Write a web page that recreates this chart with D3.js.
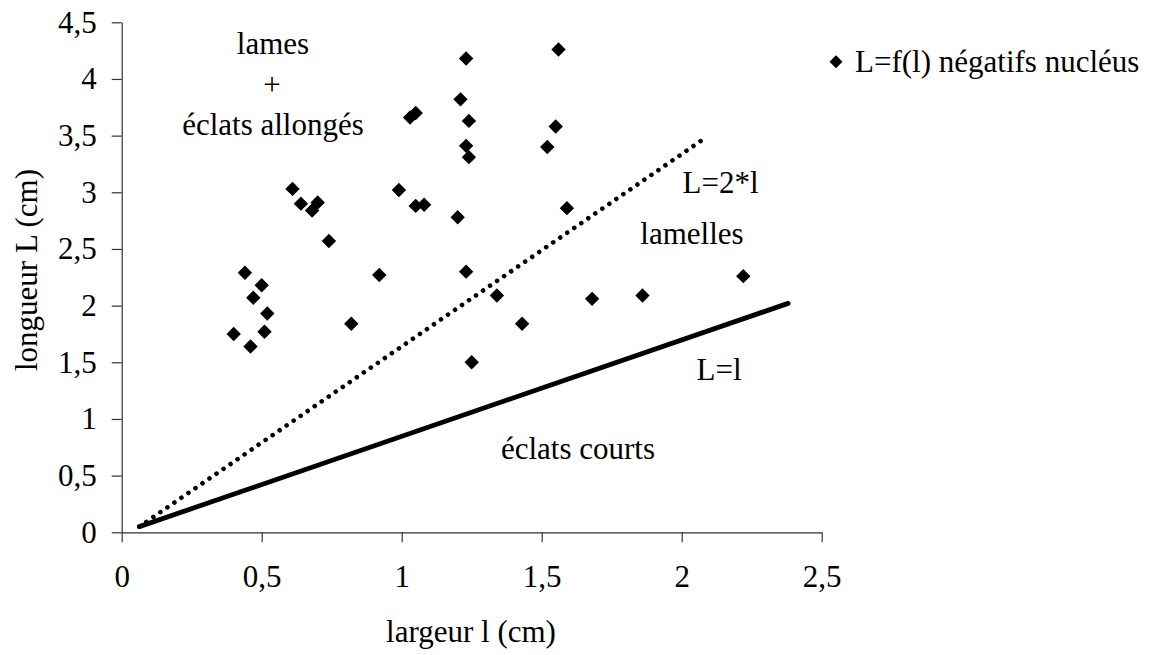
<!DOCTYPE html>
<html>
<head>
<meta charset="utf-8">
<script src="https://cdn.jsdelivr.net/npm/d3@7"></script>
<style>
  html, body { margin: 0; padding: 0; background: #fff; }
</style>
</head>
<body>
<svg id="chart" width="1149" height="655"></svg>
<script>
// ---- data ----
const largeur = [1.23, 1.21, 1.03, 1.05, 1.24, 1.23, 1.24, 0.61, 0.64, 0.68, 0.70, 0.99,
                 1.05, 1.08, 1.20, 0.74, 1.56, 1.55, 1.52, 1.59, 0.44, 0.50, 0.47, 0.52,
                 0.40, 0.51, 0.46, 0.92, 0.82, 1.23, 1.25, 1.34, 1.43, 1.68, 1.86, 2.22];
const longueur = [4.18, 3.82, 3.66, 3.70, 3.63, 3.41, 3.31, 3.03, 2.90, 2.84, 2.91, 3.02,
                  2.88, 2.89, 2.78, 2.57, 4.26, 3.58, 3.40, 2.86, 2.29, 2.18, 2.07, 1.93,
                  1.75, 1.77, 1.64, 2.27, 1.84, 2.30, 1.50, 2.09, 1.84, 2.06, 2.09, 2.26];
const lineLeqL_x = [0.063, 2.38];
const lineLeqL_y = [0.05, 2.02];
const lineL2l_x = [0.063, 2.09];
const lineL2l_y = [0.05, 3.49];
const xTicks = [0, 0.5, 1, 1.5, 2, 2.5];
const yTicks = [0, 0.5, 1, 1.5, 2, 2.5, 3, 3.5, 4, 4.5];
const seriesName = "L=f(l) négatifs nucléus";
const xTitle = "largeur l (cm)";
const yTitle = "longueur L (cm)";

// ---- drawing ----
const FONT = '"Liberation Serif", "Times New Roman", Tinos, Times';
const FS = 31;
const svg = d3.select("#chart");
const x = d3.scaleLinear().domain([0, 2.5]).range([121.7, 821.7]);
const y = d3.scaleLinear().domain([0, 4.5]).range([532.3, 22.3]);
const fmt = d => String(d).replace(".", ",");

const xAxis = svg.append("g")
  .attr("transform", `translate(0,${y(0)})`)
  .call(d3.axisBottom(x).tickValues(xTicks).tickFormat(fmt).tickSize(10).tickPadding(23).tickSizeOuter(0));
const yAxis = svg.append("g")
  .attr("transform", `translate(${x(0)},0)`)
  .call(d3.axisLeft(y).tickValues(yTicks).tickFormat(fmt).tickSize(10).tickPadding(15).tickSizeOuter(0));
[xAxis, yAxis].forEach(g => {
  g.select(".domain").attr("stroke", "#333").attr("stroke-width", 1.2);
  g.selectAll(".tick line").attr("stroke", "#333").attr("stroke-width", 1.2);
  g.selectAll(".tick text").attr("font-size", FS).style("font-family", FONT).style("font-size", FS + "px").attr("fill", "#000");
});

// reference lines
const line = d3.line().x(d => x(d[0])).y(d => y(d[1]));
svg.append("path")
  .attr("d", line(lineLeqL_x.map((v, i) => [v, lineLeqL_y[i]])))
  .attr("stroke", "#000").attr("stroke-width", 4.8).attr("fill", "none").attr("stroke-linecap", "round");
svg.append("path")
  .attr("d", line(lineL2l_x.map((v, i) => [v, lineL2l_y[i]])))
  .attr("stroke", "#000").attr("stroke-width", 4.6).attr("fill", "none")
  .attr("stroke-linecap", "round").attr("stroke-dasharray", "0.01 8.5");

// points
const diamond = r => `M0,${-r}L${r},0L0,${r}L${-r},0Z`;
svg.append("g").selectAll("path")
  .data(largeur.map((v, i) => [v, longueur[i]]))
  .join("path")
  .attr("transform", d => `translate(${x(d[0])},${y(d[1])})`)
  .attr("d", diamond(7.2))
  .attr("fill", "#000");

// text helper
function txt(parent, px, py, s, anchor) {
  return parent.append("text").attr("x", px).attr("y", py)
    .attr("text-anchor", anchor || "middle")
    .style("font-family", FONT).style("font-size", FS + "px")
    .attr("fill", "#000").text(s);
}

// annotations
txt(svg, 273, 54, "lames");
txt(svg, 272, 94.5, "+");
txt(svg, 273, 135, "éclats allongés");
txt(svg, 720.5, 193, "L=2*l");
txt(svg, 692, 244, "lamelles");
txt(svg, 719, 380, "L=l");
txt(svg, 578, 459, "éclats courts");

// axis titles
txt(svg, 471, 642, xTitle);
txt(svg, 0, 0, yTitle).attr("transform", "translate(37,270) rotate(-90)");

// legend
const lg = svg.append("g").attr("transform", "translate(836,61.7)");
lg.append("path").attr("d", diamond(6.5)).attr("fill", "#000");
txt(lg, 19, 10.5, seriesName, "start");
</script>
</body>
</html>
